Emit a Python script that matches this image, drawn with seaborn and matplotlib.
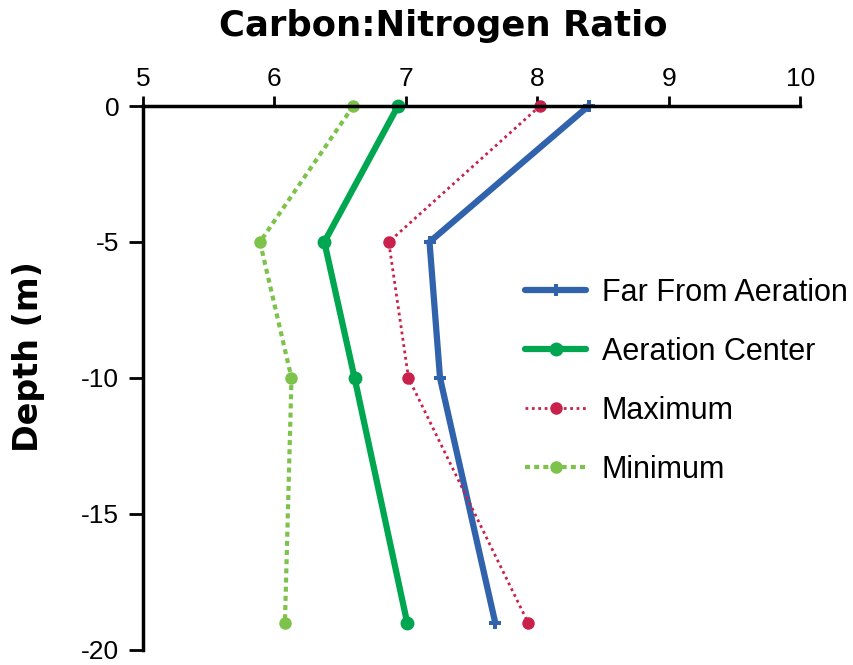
import matplotlib.pyplot as plt
import seaborn as sns
import pandas as pd
import numpy as np

sns.set_style("white")
plt.rcParams["font.family"] = ["Liberation Sans", "DejaVu Sans"]
plt.rcParams["axes.unicode_minus"] = False
plt.rcParams["text.color"] = "black"
plt.rcParams["axes.labelcolor"] = "black"
plt.rcParams["xtick.color"] = "black"
plt.rcParams["ytick.color"] = "black"

depth = [0, -5, -10, -19]
far_from_aeration = [8.39, 7.18, 7.26, 7.68]
aeration_center = [6.94, 6.38, 6.61, 7.01]
maximum = [8.02, 6.87, 7.02, 7.93]
minimum = [6.60, 5.89, 6.13, 6.08]

series = {
    "Far From Aeration": far_from_aeration,
    "Aeration Center": aeration_center,
    "Maximum": maximum,
    "Minimum": minimum,
}

styles = {
    "Far From Aeration": dict(color="#3163AC", lw=4.5, ls="-", marker="P", ms=9),
    "Aeration Center": dict(color="#00A650", lw=4.5, ls="-", marker="o", ms=10),
    "Maximum": dict(color="#C8224C", lw=2, ls=(0, (1, 1.3)), marker="o", ms=9),
    "Minimum": dict(color="#7DC24B", lw=3, ls=(0, (1.2, 1)), marker="o", ms=9),
}

fig = plt.figure(figsize=(8.54, 6.65), dpi=100)
ax = fig.add_axes([0.1674, 0.0226, 0.7696, 0.818])

for name, vals in series.items():
    st = styles[name]
    df = pd.DataFrame({"ratio": vals, "depth": depth})
    sns.lineplot(data=df, x="ratio", y="depth", sort=False, ax=ax, label=name,
                 color=st["color"], linewidth=st["lw"], linestyle=st["ls"],
                 marker=st["marker"], markersize=st["ms"], markeredgewidth=0,
                 clip_on=False)

ax.set_xlim(5, 10)
ax.set_ylim(-20, 0)
ax.set_xticks([5, 6, 7, 8, 9, 10])
ax.set_yticks([0, -5, -10, -15, -20])
ax.xaxis.tick_top()
ax.xaxis.set_label_position("top")
ax.spines["right"].set_visible(False)
ax.spines["bottom"].set_visible(False)
for sp in ["top", "left"]:
    ax.spines[sp].set_linewidth(2.5)
    ax.spines[sp].set_color("black")
ax.tick_params(axis="x", direction="out", length=7, width=2, labelsize=19, pad=4,
               top=True, bottom=False)
ax.tick_params(axis="y", direction="out", length=10, width=2, labelsize=19, pad=7,
               left=True)

ax.set_xlabel("Carbon:Nitrogen Ratio", fontsize=25.5, fontweight="bold",
              family=["DejaVu Sans"])
ax.xaxis.set_label_coords(0.457, 1.128)
ax.set_ylabel("Depth (m)", fontsize=24, fontweight="bold",
              family=["DejaVu Sans"])
ax.yaxis.set_label_coords(-0.149, 0.54)

ax.legend(loc="center left", bbox_to_anchor=(0.563, 0.4936), frameon=False,
          fontsize=22, handlelength=2.0, labelspacing=0.95, handletextpad=0.5,
          borderaxespad=0, borderpad=0.4)

fig.savefig("out.png", dpi=100)
